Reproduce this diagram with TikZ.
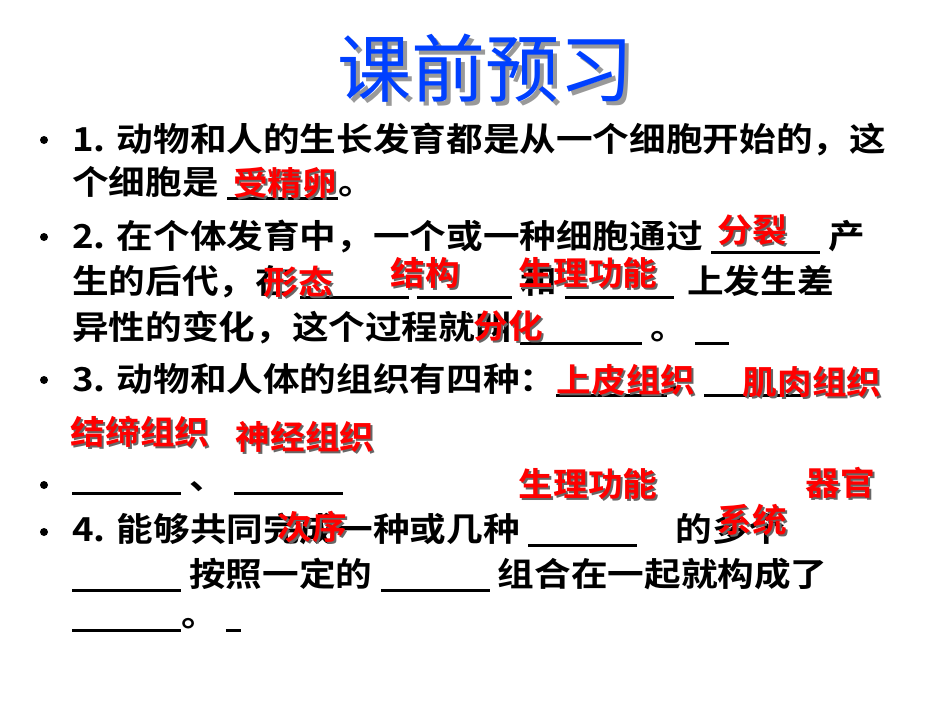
\documentclass[tikz,border=0pt]{standalone}
\usepackage{fontspec}
\newfontfamily\cjk{Noto Sans CJK SC}[BoldFont={* Bold}]
\newcommand{\bl}[1]{\rule[-5pt]{#1pt}{2.5pt}}
\begin{document}
\begin{tikzpicture}[x=1pt,y=-1pt,
  blk/.style={anchor=west,inner sep=0pt,xscale=1.11,font=\cjk\bfseries\fontsize{33}{36}\selectfont},
  ans/.style={inner sep=0pt,text=red,xscale=1.05,font=\cjk\bfseries\fontsize{33}{36}\selectfont},
  dot/.style={circle,fill=black,inner sep=0pt,minimum size=8pt}]
\useasboundingbox (0,0) rectangle (950,713);
\fill[white] (0,0) rectangle (950,713);
\node[inner sep=0pt,text=black!40,font=\cjk\fontsize{74}{78}\selectfont] (tsh) at (489,72) {课前预习};
\node[inner sep=0pt,text=blue!75!cyan,font=\cjk\fontsize{74}{78}\selectfont] (title) at (485,68) {课前预习};
\node[dot] (b1) at (44,140) {};
\node[blk] (l1) at (72,140) {1. 动物和人的生长发育都是从一个细胞开始的，这};
\node[blk] (l2) at (72,183) {个细胞是 \bl{100}。};
\node[dot] (b2) at (44,237) {};
\node[blk] (l3) at (72,237) {2. 在个体发育中，一个或一种细胞通过 \bl{98} 产};
\node[blk] (l4) at (72,282) {生的后代，在 \bl{98} \bl{85} 和 \bl{98}\hspace{12pt}上发生差};
\node[blk] (l5) at (72,328) {异性的变化，这个过程就叫 \bl{110} 。 \bl{30}};
\node[dot] (b3) at (44,380) {};
\node[blk] (l6) at (72,380) {3. 动物和人体的组织有四种：\bl{100}、\bl{90}};
\node[dot] (b4) at (44,485) {};
\node[blk] (l7) at (72,488) {\bl{98} 、 \bl{98}};
\node[dot] (b5) at (44,532) {};
\node[blk] (l8) at (72,530) {4. 能够共同完成一种或几种 \bl{98}\hspace{35pt}的多个};
\node[blk] (l9) at (72,575) {\bl{98} 按照一定的 \bl{98} 组合在一起就构成了};
\node[blk] (l10) at (72,625) {\bl{98}。 \bl{14}};
\foreach \t/\x/\y/\n in {受精卵/285/183/a1,分裂/752/230/a2,形态/298/282/a3,结构/425/273/a4,生理功能/588/273/a5,分化/508/326/a6,上皮组织/626/380/a7,肌肉组织/812/382/a8,结缔组织/140/432/a9,神经组织/305/437/a10,生理功能/588/484/a11,器官/840/483/a12,次序/312/527/a13,系统/752/520/a14}{
  \node[ans,text=black!60] at (\x+2,\y+2) {\t};
  \node[ans] (\n) at (\x,\y) {\t};
}
\end{tikzpicture}
\end{document}
